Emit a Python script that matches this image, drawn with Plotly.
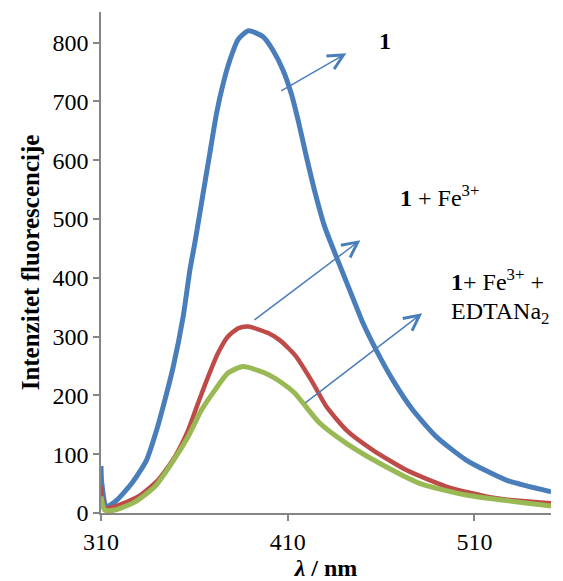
import plotly.graph_objects as go

# wavelength (nm) and intensity readings for each spectrum
x_blue = [310, 310.4, 313, 317.5, 326.4, 334.4, 339.8, 344.2, 348.7, 354, 357.6, 360.3, 364.7,
          368.3, 371.9, 375.4, 379, 383.4, 389, 396.8, 402.1, 407.5, 412, 416, 420, 424.4,
          429.8, 436, 443.2, 450.3, 457.4, 466.3, 477, 489.5, 505.6, 527, 551]
y_blue = [80, 51, 11, 19, 50, 90, 141, 192, 249, 334, 413, 460, 544,
          612, 680, 730, 770, 805, 820, 810, 787, 753, 712, 662, 606, 548,
          487, 436, 379, 323, 277, 226, 175, 130, 90, 56, 36]

x_red = [310, 312, 317.5, 330, 340.6, 349.6, 356.7, 362, 367.4, 372.7, 378, 383.4, 388.8,
         399.5, 405.7, 414, 423.5, 430.7, 441.4, 455.6, 473.5, 494.9, 521.6, 551]
y_red = [45, 8, 11, 28, 56, 96, 141, 187, 232, 272, 300, 314, 317,
         306, 294, 268, 221, 181, 141, 107, 73, 45, 25, 16.5]

x_green = [310, 312, 317.5, 328.2, 338.9, 347.8, 356.7, 363.8, 371, 378, 386.1, 397.7, 406.6,
           413.7, 418.2, 427.1, 441.4, 459.2, 480.6, 505.6, 551]
y_green = [28, 5, 5, 19, 45, 84.5, 130, 175, 209, 238, 249, 238, 222,
           204, 187, 153, 118.5, 84.5, 50.5, 30.6, 12]

x_ticks = [310, 410, 510]
y_ticks = [0, 100, 200, 300, 400, 500, 600, 700, 800]

FONT = "Liberation Serif, Times New Roman, serif"
AXIS = "#868686"
BLUE = "#4a7ebb"

fig = go.Figure()
fig.add_trace(go.Scatter(x=x_blue, y=y_blue, mode="lines",
                         line=dict(color=BLUE, width=5, shape="spline", smoothing=0.6)))
fig.add_trace(go.Scatter(x=x_red, y=y_red, mode="lines",
                         line=dict(color="#be4b48", width=4.5, shape="spline", smoothing=0.6)))
fig.add_trace(go.Scatter(x=x_green, y=y_green, mode="lines",
                         line=dict(color="#98b954", width=5, shape="spline", smoothing=0.6)))

# arrows (head, tail) in data coordinates
arrows = [((441.4, 781.8), (405.7, 716.5)),
          ((448.9, 464.0), (391.4, 326.5)),
          ((482.0, 339.6), (418.6, 185.4))]
for (hx, hy), (tx, ty) in arrows:
    fig.add_annotation(x=hx, y=hy, ax=tx, ay=ty, xref="x", yref="y", axref="x", ayref="y",
                       text="", showarrow=True, arrowhead=5, arrowsize=2, arrowwidth=1.5,
                       arrowcolor=BLUE, standoff=0, startstandoff=0)

labels = [("<b>1</b>", 461.9, 803, "center"),
          ("<b>1</b> + Fe<sup>3+</sup>", 491.3, 539, "center"),
          ("<b>1</b>+ Fe<sup>3+</sup> +", 496.6, 397, "left"),
          ("EDTANa<sub>2</sub>", 496.6, 340, "left")]
for txt, lx, ly, anc in labels:
    fig.add_annotation(x=lx, y=ly, xref="x", yref="y", text=txt, showarrow=False,
                       xanchor=anc, yanchor="middle", font=dict(family=FONT, size=24, color="black"))

# page body has an 8px margin: size the figure so the plot area lands where the reference has it
fig.update_layout(
    width=555, height=573,
    margin=dict(l=93, r=12, t=4, b=68),
    paper_bgcolor="white", plot_bgcolor="white",
    showlegend=False,
    font=dict(family=FONT, size=24, color="black"),
)
fig.update_xaxes(range=[310, 551], tickvals=x_ticks, ticktext=[str(v) for v in x_ticks],
                 showgrid=False, zeroline=False, showline=True, linecolor=AXIS, linewidth=1.5,
                 ticks="outside", ticklen=6, tickcolor=AXIS, tickwidth=1.5,
                 tickfont=dict(family=FONT, size=24),
                 title=dict(text="<b><i>λ</i> / nm</b>", font=dict(family=FONT, size=24), standoff=0),
                 automargin=False)
fig.update_yaxes(range=[0, 852], tickvals=y_ticks, ticktext=[str(v) for v in y_ticks],
                 showgrid=False, zeroline=False, showline=True, linecolor=AXIS, linewidth=1.5,
                 ticks="outside", ticklen=6, tickcolor=AXIS, tickwidth=1.5,
                 tickfont=dict(family=FONT, size=24),
                 title=dict(text="<b>Intenzitet fluorescencije</b>", font=dict(family=FONT, size=25), standoff=6),
                 automargin=False)

fig.write_html("out.html")
